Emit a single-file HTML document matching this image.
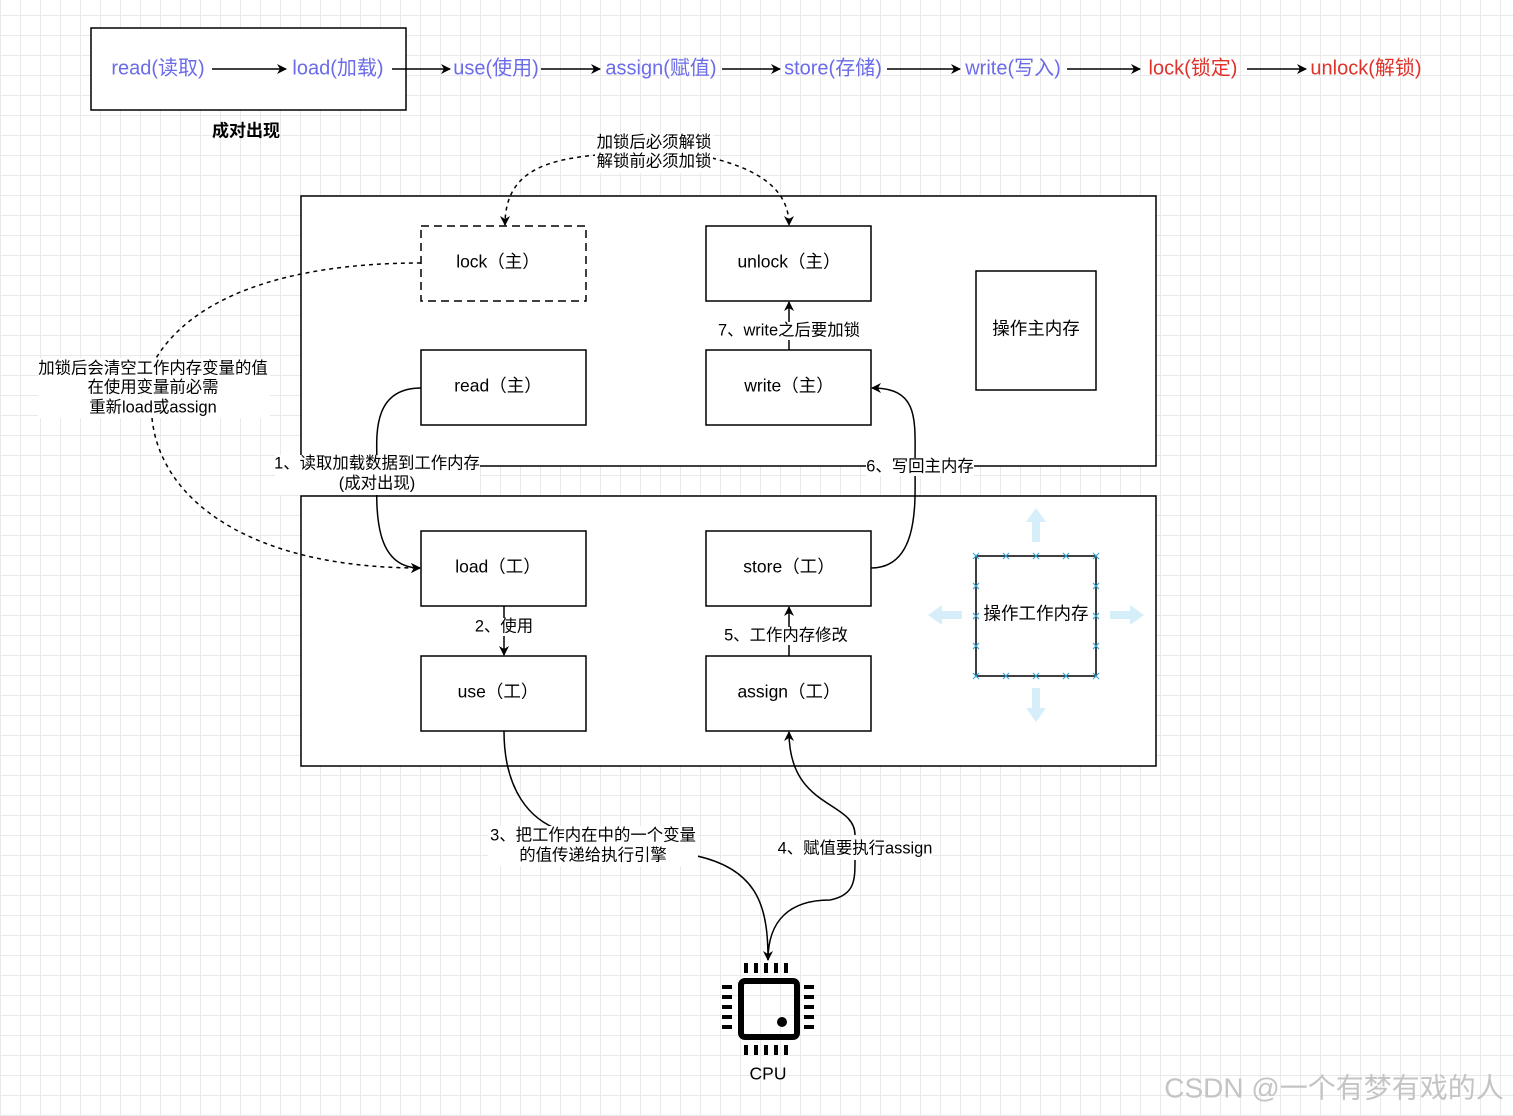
<!DOCTYPE html><html><head><meta charset="utf-8"><style>
body{margin:0;width:1513px;height:1116px;overflow:hidden;background:#fff;
background-image:linear-gradient(#e9e9e9 1px,transparent 1px),linear-gradient(90deg,#e9e9e9 1px,transparent 1px);
background-size:20px 20px;background-position:0 15px,0 0;}
svg{position:absolute;left:0;top:0}
text{font-family:"Liberation Sans","Noto Sans CJK SC",sans-serif;text-anchor:middle;dominant-baseline:middle}
</style></head><body>
<svg width="1513" height="1116" viewBox="0 0 1513 1116">
<defs><marker id="a" markerWidth="10" markerHeight="10" refX="9" refY="5" orient="auto" markerUnits="userSpaceOnUse"><path d="M0,0 L10,5 L0,10 L3,5z" fill="#000"/></marker></defs>
<g fill="none" stroke="#000" stroke-width="1.5">
<rect x="91" y="28" width="315" height="82" fill="#fff"/>
<rect x="301" y="196" width="855" height="270" fill="#fff"/>
<rect x="301" y="496" width="855" height="270" fill="#fff"/>
<rect x="421" y="226" width="165" height="75" stroke-dasharray="8 5"/>
<rect x="706" y="226" width="165" height="75"/>
<rect x="421" y="350" width="165" height="75"/>
<rect x="706" y="350" width="165" height="75"/>
<rect x="976" y="271" width="120" height="119"/>
<rect x="421" y="531" width="165" height="75"/>
<rect x="706" y="531" width="165" height="75"/>
<rect x="421" y="656" width="165" height="75"/>
<rect x="706" y="656" width="165" height="75"/>
<rect x="976" y="556" width="120" height="120"/>
</g>
<g stroke="#000" stroke-width="1.5" fill="none" marker-end="url(#a)">
<path d="M212,69H286"/><path d="M392,69H450"/><path d="M541,69H600"/><path d="M722,69H780"/><path d="M887,69H960"/><path d="M1067,69H1140"/><path d="M1247,69H1306"/>
<path d="M789,350V302"/><path d="M504,606V655"/><path d="M789,656V607"/>
<path d="M421,388C370,388 377,440 377,465C377,500 370,568 420,568"/>
<path d="M871,568C920,568 915,500 915,467C915,420 920,388 872,388"/>
<path d="M504,731C504,790 530,820 560,830M697,856C760,870 768,910 768,960"/>
<path d="M768,960C768,920 790,900 830,900C855,895 855,880 855,860M855,835C855,800 789,810 789,732"/>
</g>
<g stroke="#000" stroke-width="1.5" fill="none" stroke-dasharray="4 4" marker-end="url(#a)">
<path d="M597,155C540,160 505,175 505,225"/>
<path d="M712,158C760,170 789,190 789,225"/>
<path d="M421,263C280,263 190,300 155,360M152,418C160,500 250,568 420,568"/>
</g>
<g fill="#6b6bea" style="font-size:20px"><text x="158" y="69">read(读取)</text><text x="338" y="69">load(加载)</text><text x="496" y="69">use(使用)</text><text x="661" y="69">assign(赋值)</text><text x="833" y="69">store(存储)</text><text x="1013" y="69">write(写入)</text></g>
<g fill="#e0322a" style="font-size:20px"><text x="1193" y="69">lock(锁定)</text><text x="1366" y="69">unlock(解锁)</text></g>
<text x="246" y="132" font-weight="bold" style="font-size:17px">成对出现</text>
<g style="font-size:17.5px">
<text x="498" y="263">lock（主）</text><text x="789" y="263">unlock（主）</text>
<text x="498" y="387">read（主）</text><text x="789" y="387">write（主）</text>
<text x="1036" y="330">操作主内存</text>
<text x="498" y="568">load（工）</text><text x="789" y="568">store（工）</text>
<text x="498" y="693">use（工）</text><text x="789" y="693">assign（工）</text>
<text x="1036" y="615">操作工作内存</text>
<text x="768" y="1075">CPU</text>
</g>
<g style="font-size:16.4px">
<rect x="595" y="133" width="118" height="40" fill="#fff"/>
<text x="654" y="143">加锁后必须解锁</text><text x="654" y="162">解锁前必须加锁</text>
<rect x="38" y="358" width="232" height="60" fill="#fff"/>
<text x="153" y="369">加锁后会清空工作内存变量的值</text><text x="153" y="388">在使用变量前必需</text><text x="153" y="408">重新load或assign</text>
<rect x="275" y="455" width="205" height="40" fill="#fff"/>
<text x="377" y="464">1、读取加载数据到工作内存</text><text x="377" y="484">(成对出现)</text>
<rect x="866" y="458" width="108" height="18" fill="#fff"/><text x="920" y="467">6、写回主内存</text>
<rect x="716" y="322" width="146" height="18" fill="#fff"/><text x="789" y="331">7、write之后要加锁</text>
<rect x="474" y="618" width="60" height="18" fill="#fff"/><text x="504" y="627">2、使用</text>
<rect x="724" y="627" width="124" height="18" fill="#fff"/><text x="786" y="636">5、工作内存修改</text>
<rect x="488" y="826" width="210" height="40" fill="#fff"/>
<text x="593" y="836">3、把工作内在中的一个变量</text><text x="593" y="856">的值传递给执行引擎</text>
<rect x="778" y="840" width="154" height="18" fill="#fff"/><text x="855" y="849">4、赋值要执行assign</text>
</g>
<g fill="#d6eefa">
<path d="M1036,508l-10,14h6v20h8v-20h6z"/><path d="M1036,722l-10,-14h6v-20h8v20h6z"/>
<path d="M928,615l14,-10v6h20v8h-20v6z"/><path d="M1144,615l-14,-10v6h-20v8h20v6z"/>
</g>
<g stroke="#3aa6d8" stroke-width="1.2">
<path d="M973,553l6,6m0,-6l-6,6M1003,553l6,6m0,-6l-6,6M1033,553l6,6m0,-6l-6,6M1063,553l6,6m0,-6l-6,6M1093,553l6,6m0,-6l-6,6M973,673l6,6m0,-6l-6,6M1003,673l6,6m0,-6l-6,6M1033,673l6,6m0,-6l-6,6M1063,673l6,6m0,-6l-6,6M1093,673l6,6m0,-6l-6,6M973,583l6,6m0,-6l-6,6M973,613l6,6m0,-6l-6,6M973,643l6,6m0,-6l-6,6M1093,583l6,6m0,-6l-6,6M1093,613l6,6m0,-6l-6,6M1093,643l6,6m0,-6l-6,6"/>
</g>
<rect x="741" y="981" width="56" height="56" rx="4" fill="none" stroke="#000" stroke-width="6"/>
<circle cx="782" cy="1022" r="5" fill="#000"/>
<g fill="#000">
<rect x="744" y="963" width="4" height="10"/><rect x="754" y="963" width="4" height="10"/><rect x="764" y="963" width="4" height="10"/><rect x="774" y="963" width="4" height="10"/><rect x="784" y="963" width="4" height="10"/>
<rect x="744" y="1045" width="4" height="10"/><rect x="754" y="1045" width="4" height="10"/><rect x="764" y="1045" width="4" height="10"/><rect x="774" y="1045" width="4" height="10"/><rect x="784" y="1045" width="4" height="10"/>
<rect x="722" y="985" width="10" height="4"/><rect x="722" y="995" width="10" height="4"/><rect x="722" y="1005" width="10" height="4"/><rect x="722" y="1015" width="10" height="4"/><rect x="722" y="1025" width="10" height="4"/>
<rect x="804" y="985" width="10" height="4"/><rect x="804" y="995" width="10" height="4"/><rect x="804" y="1005" width="10" height="4"/><rect x="804" y="1015" width="10" height="4"/><rect x="804" y="1025" width="10" height="4"/>
</g>
<text x="1334" y="1090" fill="#c4c4c4" style="font-size:28px">CSDN @一个有梦有戏的人</text>
</svg></body></html>
